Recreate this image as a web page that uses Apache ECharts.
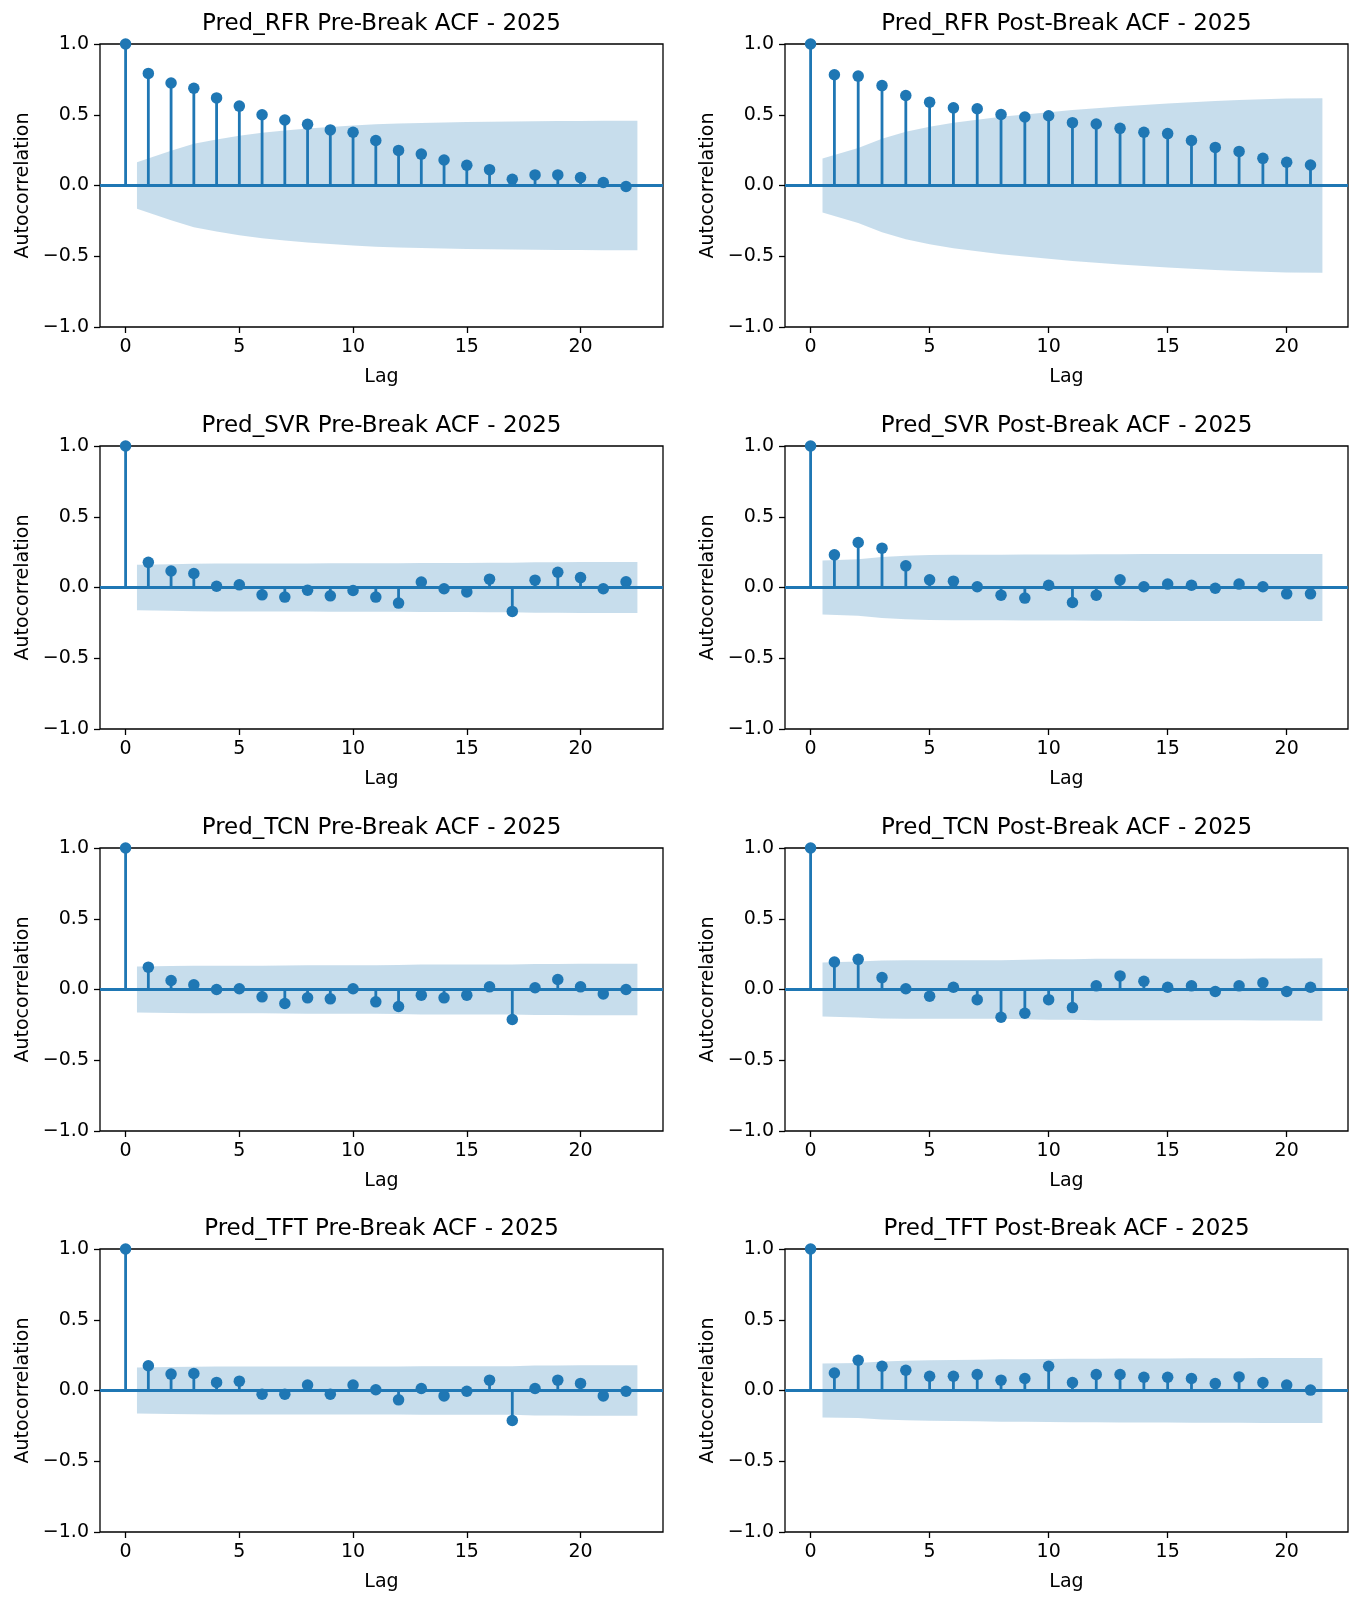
<!DOCTYPE html>
<html lang="en">
<head>
    <meta charset="UTF-8" />
    <title>ACF 2025</title>
    <script src="https://cdn.jsdelivr.net/npm/echarts@6.0.0/dist/echarts.min.js"></script>
    <style>
        html, body { margin: 0; padding: 0; background: #fff; }
        #main { width: 1361px; height: 1601px; }
    </style>
</head>
<body>
<div id="main"></div>
<script type="text/javascript">
    // ACF values, lag 0 .. N
    var rfrPre  = [1.0, 0.792, 0.724, 0.687, 0.619, 0.561, 0.500, 0.463, 0.432, 0.393, 0.376, 0.318, 0.248, 0.222, 0.180, 0.143, 0.112, 0.044, 0.075, 0.075, 0.056, 0.021, -0.007];
    var rfrPost = [1.0, 0.783, 0.773, 0.706, 0.636, 0.589, 0.549, 0.542, 0.502, 0.484, 0.493, 0.444, 0.435, 0.404, 0.376, 0.367, 0.318, 0.269, 0.241, 0.192, 0.164, 0.145];
    var svrPre  = [1.0, 0.178, 0.117, 0.099, 0.009, 0.019, -0.052, -0.068, -0.019, -0.059, -0.021, -0.068, -0.110, 0.038, -0.009, -0.031, 0.059, -0.169, 0.052, 0.108, 0.070, -0.009, 0.040];
    var svrPost = [1.0, 0.231, 0.318, 0.278, 0.153, 0.054, 0.045, 0.005, -0.054, -0.075, 0.016, -0.106, -0.054, 0.054, 0.005, 0.024, 0.016, -0.005, 0.024, 0.005, -0.045, -0.045];
    var tcnPre  = [1.0, 0.158, 0.064, 0.033, 0.000, 0.005, -0.052, -0.099, -0.059, -0.066, 0.005, -0.087, -0.120, -0.040, -0.059, -0.040, 0.019, -0.212, 0.012, 0.071, 0.019, -0.031, 0.000];
    var tcnPost = [1.0, 0.194, 0.213, 0.084, 0.005, -0.047, 0.016, -0.072, -0.196, -0.168, -0.072, -0.128, 0.026, 0.096, 0.058, 0.016, 0.026, -0.014, 0.026, 0.047, -0.014, 0.016];
    var tftPre  = [1.0, 0.175, 0.116, 0.120, 0.057, 0.066, -0.026, -0.026, 0.038, -0.026, 0.038, 0.005, -0.066, 0.014, -0.038, -0.005, 0.073, -0.212, 0.014, 0.073, 0.050, -0.038, -0.005];
    var tftPost = [1.0, 0.124, 0.214, 0.171, 0.143, 0.101, 0.101, 0.113, 0.073, 0.085, 0.171, 0.056, 0.113, 0.113, 0.094, 0.094, 0.085, 0.049, 0.096, 0.056, 0.038, 0.003];

    // half width of the confidence band, lag 1 .. N
    var rfrPreBand  = [0.165, 0.245, 0.295, 0.325, 0.352, 0.372, 0.389, 0.403, 0.414, 0.424, 0.432, 0.438, 0.442, 0.446, 0.449, 0.451, 0.453, 0.454, 0.455, 0.456, 0.457, 0.458];
    var rfrPostBand = [0.19, 0.265, 0.33, 0.38, 0.415, 0.443, 0.465, 0.485, 0.502, 0.518, 0.533, 0.546, 0.558, 0.569, 0.579, 0.589, 0.597, 0.604, 0.61, 0.614, 0.617];
    var svrPreBand  = [0.16, 0.164, 0.167, 0.169, 0.169, 0.169, 0.17, 0.17, 0.171, 0.171, 0.171, 0.172, 0.174, 0.174, 0.174, 0.175, 0.175, 0.179, 0.179, 0.18, 0.18, 0.181];
    var svrPostBand = [0.19, 0.2, 0.215, 0.225, 0.23, 0.231, 0.232, 0.232, 0.233, 0.233, 0.234, 0.235, 0.235, 0.236, 0.236, 0.236, 0.236, 0.236, 0.237, 0.237, 0.237];
    var tcnPreBand  = [0.162, 0.166, 0.167, 0.167, 0.167, 0.168, 0.169, 0.171, 0.171, 0.172, 0.172, 0.174, 0.176, 0.176, 0.177, 0.177, 0.177, 0.181, 0.181, 0.182, 0.182, 0.182];
    var tcnPostBand = [0.19, 0.197, 0.205, 0.206, 0.206, 0.206, 0.206, 0.207, 0.211, 0.214, 0.214, 0.217, 0.217, 0.218, 0.218, 0.218, 0.218, 0.218, 0.219, 0.219, 0.22];
    var tftPreBand  = [0.162, 0.166, 0.168, 0.169, 0.169, 0.17, 0.17, 0.17, 0.17, 0.17, 0.17, 0.17, 0.171, 0.171, 0.171, 0.171, 0.172, 0.177, 0.177, 0.178, 0.178, 0.178];
    var tftPostBand = [0.19, 0.195, 0.205, 0.211, 0.214, 0.216, 0.218, 0.22, 0.221, 0.222, 0.225, 0.225, 0.226, 0.227, 0.227, 0.228, 0.228, 0.228, 0.229, 0.229, 0.229];

    var titles = [
        'Pred_RFR Pre-Break ACF - 2025', 'Pred_RFR Post-Break ACF - 2025',
        'Pred_SVR Pre-Break ACF - 2025', 'Pred_SVR Post-Break ACF - 2025',
        'Pred_TCN Pre-Break ACF - 2025', 'Pred_TCN Post-Break ACF - 2025',
        'Pred_TFT Pre-Break ACF - 2025', 'Pred_TFT Post-Break ACF - 2025'
    ];
    var acfs  = [rfrPre, rfrPost, svrPre, svrPost, tcnPre, tcnPost, tftPre, tftPost];
    var bands = [rfrPreBand, rfrPostBand, svrPreBand, svrPostBand, tcnPreBand, tcnPostBand, tftPreBand, tftPostBand];
    var xTicks = [0, 5, 10, 15, 20];
    var yTicks = [-1, -0.5, 0, 0.5, 1];

    var FONT = 'DejaVu Sans';
    var BLUE = '#1f77b4';
    var colLeft = [100, 785], colWidth = 563;
    var rowTop = [44, 446, 848, 1249], plotH = 283;

    var myChart = echarts.init(document.getElementById('main'), null, {renderer: 'canvas'});

    var option = {
        animation: false,
        backgroundColor: '#fff',
        textStyle: {fontFamily: FONT},
        title: [], grid: [], xAxis: [], yAxis: [], series: []
    };

    function fmt(v) {
        var s = Math.abs(v).toFixed(1);
        return v < 0 ? '\u2212' + s : s;
    }

    acfs.forEach(function (acf, i) {
        var col = i % 2, row = Math.floor(i / 2);
        var band = bands[i];
        var maxLag = acf.length - 1;
        var span = maxLag + 0.5;

        option.title.push({
            text: titles[i],
            left: colLeft[col] + colWidth / 2,
            top: rowTop[row] - 31,
            textAlign: 'center',
            padding: 0,
            textStyle: {fontFamily: FONT, fontSize: 23, fontWeight: 'normal', color: '#000'}
        });
        option.grid.push({
            left: colLeft[col], top: rowTop[row], width: colWidth, height: plotH,
            show: true, borderColor: '#000', borderWidth: 1.3, backgroundColor: 'transparent'
        });
        option.xAxis.push({
            type: 'value', gridIndex: i, min: -0.05 * span, max: span * 1.05,
            name: 'Lag', nameLocation: 'middle', nameGap: 41,
            nameTextStyle: {fontFamily: FONT, fontSize: 19, color: '#000'},
            axisLine: {show: false, onZero: false},
            splitLine: {show: false},
            axisTick: {show: true, length: 6, lineStyle: {color: '#000', width: 1.3}, customValues: xTicks},
            axisLabel: {fontFamily: FONT, fontSize: 19, color: '#000', margin: 11, customValues: xTicks}
        });
        option.yAxis.push({
            type: 'value', gridIndex: i, min: -1, max: 1, interval: 0.5,
            name: 'Autocorrelation', nameLocation: 'middle', nameGap: 67, nameRotate: 90,
            nameTextStyle: {fontFamily: FONT, fontSize: 19, color: '#000'},
            axisLine: {show: false, onZero: false},
            splitLine: {show: false},
            axisTick: {show: true, length: 6, lineStyle: {color: '#000', width: 1.3}, customValues: yTicks},
            axisLabel: {fontFamily: FONT, fontSize: 19, color: '#000', margin: 11, formatter: fmt, customValues: yTicks}
        });

        // band x positions: lags 1..N, ends pushed out by half a lag
        var bandPts = band.map(function (c, k) {
            var x = k + 1;
            if (k === 0) x -= 0.5;
            if (k === band.length - 1) x += 0.5;
            return [x, c];
        });

        option.series.push({
            type: 'custom', xAxisIndex: i, yAxisIndex: i, silent: true, z: 1,
            data: [[0, 0]],
            renderItem: function (params, api) {
                var pts = [];
                bandPts.forEach(function (p) { pts.push(api.coord([p[0], p[1]])); });
                for (var k = bandPts.length - 1; k >= 0; k--) {
                    pts.push(api.coord([bandPts[k][0], -bandPts[k][1]]));
                }
                return {type: 'polygon', shape: {points: pts}, style: {fill: 'rgba(31,119,180,0.25)'}};
            }
        });
        // stems
        option.series.push({
            type: 'custom', xAxisIndex: i, yAxisIndex: i, silent: true, z: 2,
            data: acf.map(function (v, k) { return [k, v]; }),
            renderItem: function (params, api) {
                var p0 = api.coord([api.value(0), 0]);
                var p1 = api.coord([api.value(0), api.value(1)]);
                return {type: 'line', shape: {x1: p0[0], y1: p0[1], x2: p1[0], y2: p1[1]},
                        style: {stroke: BLUE, lineWidth: 2.8}};
            }
        });
        // markers + zero line
        option.series.push({
            type: 'scatter', xAxisIndex: i, yAxisIndex: i, z: 3,
            symbolSize: 11.5,
            itemStyle: {color: BLUE, opacity: 1},
            data: acf.map(function (v, k) { return [k, v]; }),
            markLine: {
                silent: true, symbol: 'none', animation: false,
                label: {show: false},
                lineStyle: {color: BLUE, width: 2.8, type: 'solid'},
                data: [{yAxis: 0}]
            }
        });
    });

    myChart.setOption(option);
</script>
</body>
</html>
